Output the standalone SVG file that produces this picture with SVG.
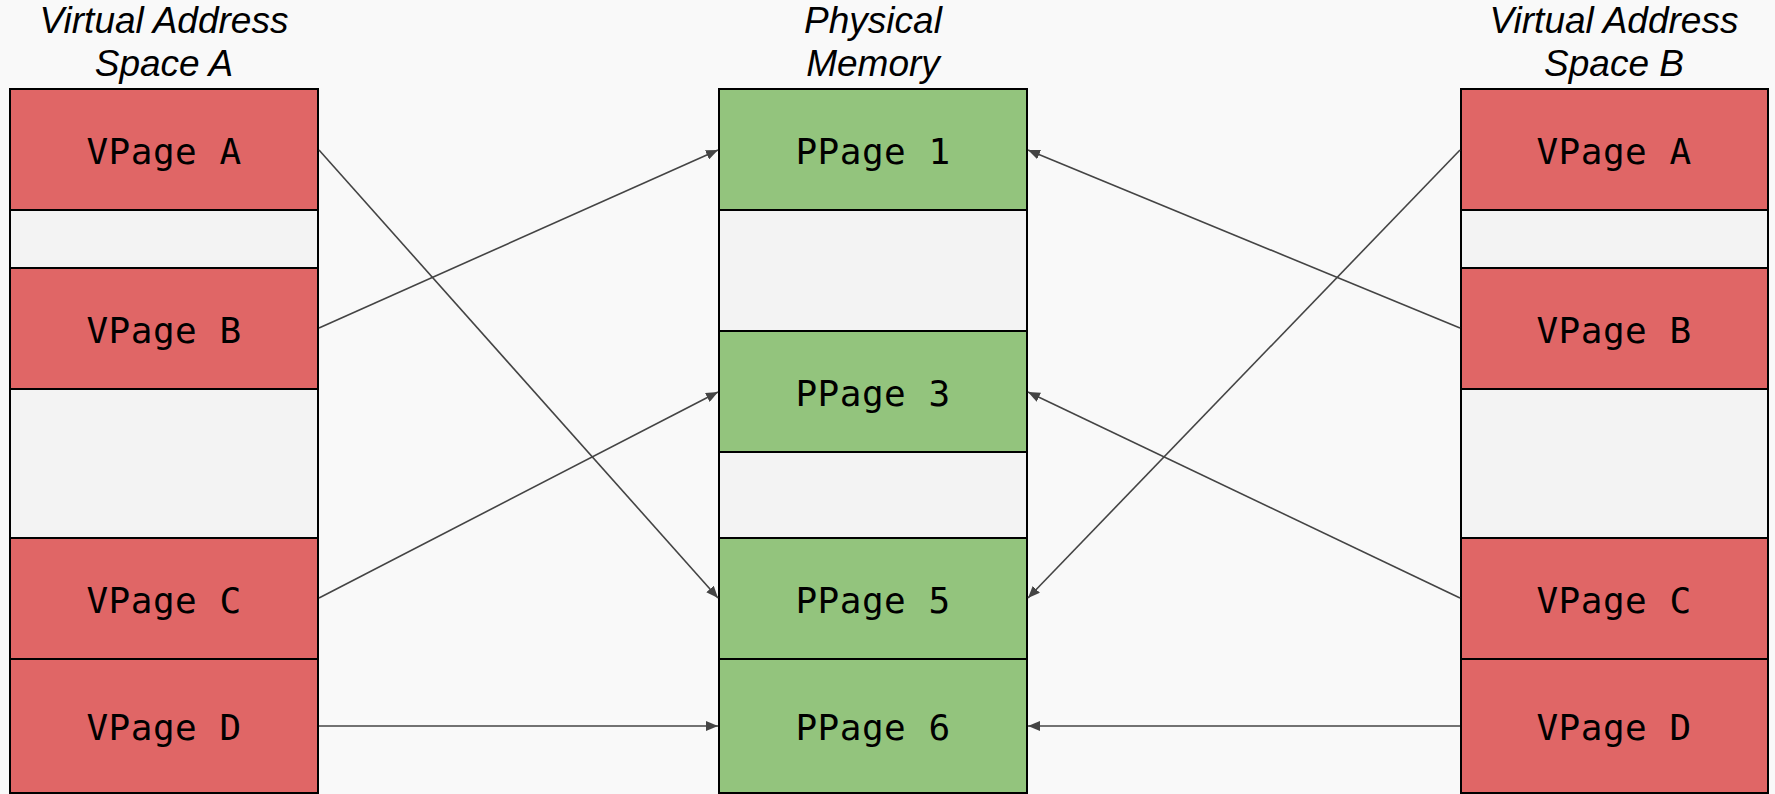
<svg xmlns="http://www.w3.org/2000/svg" width="1775" height="794" viewBox="0 0 1775 794">
  <defs>
    <marker id="arrow" viewBox="0 0 12 10" refX="12" refY="5" markerWidth="12" markerHeight="10" markerUnits="userSpaceOnUse" orient="auto">
      <path d="M0,0 L12,5 L0,10 Z" fill="#444444"/>
    </marker>
    <style>
      .title { font-family: "Liberation Sans", Arial, sans-serif; font-style: italic; font-size: 37px; fill: #000; text-anchor: middle; }
      .page { stroke: #000; stroke-width: 2; }
      .virt { fill: #e06666; }
      .phys { fill: #93c47d; }
      .free { fill: #f3f3f3; stroke: #000; stroke-width: 2; }
      .label { font-family: "DejaVu Sans Mono", "Liberation Mono", monospace; font-size: 36px; letter-spacing: 0.5px; fill: #000; text-anchor: middle; }
      .link { stroke: #444444; stroke-width: 1.6; fill: none; marker-end: url(#arrow); }
    </style>
  </defs>

  <rect width="1775" height="794" fill="#f9f9f9"/>

  <!-- column headings -->
  <g id="title-a">
    <text class="title" x="164" y="33">Virtual Address</text>
    <text class="title" x="164" y="76">Space A</text>
  </g>
  <g id="title-phys">
    <text class="title" x="873" y="33">Physical</text>
    <text class="title" x="873" y="76">Memory</text>
  </g>
  <g id="title-b">
    <text class="title" x="1614" y="33">Virtual Address</text>
    <text class="title" x="1614" y="76">Space B</text>
  </g>

  <!-- virtual address space A -->
  <g id="space-a">
    <g id="a-vpage-a">
      <rect class="page virt" x="10" y="89" width="308" height="121"/>
      <text class="label" x="164" y="164">VPage A</text>
    </g>
    <rect class="free" x="10" y="210" width="308" height="58"/>
    <g id="a-vpage-b">
      <rect class="page virt" x="10" y="268" width="308" height="121"/>
      <text class="label" x="164" y="343">VPage B</text>
    </g>
    <rect class="free" x="10" y="389" width="308" height="149"/>
    <g id="a-vpage-c">
      <rect class="page virt" x="10" y="538" width="308" height="121"/>
      <text class="label" x="164" y="613">VPage C</text>
    </g>
    <g id="a-vpage-d">
      <rect class="page virt" x="10" y="659" width="308" height="134"/>
      <text class="label" x="164" y="740">VPage D</text>
    </g>
  </g>

  <!-- physical memory -->
  <g id="physical">
    <g id="ppage-1">
      <rect class="page phys" x="719" y="89" width="308" height="121"/>
      <text class="label" x="873" y="164">PPage 1</text>
    </g>
    <rect class="free" x="719" y="210" width="308" height="121"/>
    <g id="ppage-3">
      <rect class="page phys" x="719" y="331" width="308" height="121"/>
      <text class="label" x="873" y="406">PPage 3</text>
    </g>
    <rect class="free" x="719" y="452" width="308" height="86"/>
    <g id="ppage-5">
      <rect class="page phys" x="719" y="538" width="308" height="121"/>
      <text class="label" x="873" y="613">PPage 5</text>
    </g>
    <g id="ppage-6">
      <rect class="page phys" x="719" y="659" width="308" height="134"/>
      <text class="label" x="873" y="740">PPage 6</text>
    </g>
  </g>

  <!-- virtual address space B -->
  <g id="space-b">
    <g id="b-vpage-a">
      <rect class="page virt" x="1461" y="89" width="307" height="121"/>
      <text class="label" x="1614" y="164">VPage A</text>
    </g>
    <rect class="free" x="1461" y="210" width="307" height="58"/>
    <g id="b-vpage-b">
      <rect class="page virt" x="1461" y="268" width="307" height="121"/>
      <text class="label" x="1614" y="343">VPage B</text>
    </g>
    <rect class="free" x="1461" y="389" width="307" height="149"/>
    <g id="b-vpage-c">
      <rect class="page virt" x="1461" y="538" width="307" height="121"/>
      <text class="label" x="1614" y="613">VPage C</text>
    </g>
    <g id="b-vpage-d">
      <rect class="page virt" x="1461" y="659" width="307" height="134"/>
      <text class="label" x="1614" y="740">VPage D</text>
    </g>
  </g>

  <!-- page mappings -->
  <g id="connectors">
    <line class="link" x1="319" y1="150" x2="718" y2="598"/>
    <line class="link" x1="319" y1="328" x2="718" y2="150"/>
    <line class="link" x1="319" y1="598" x2="718" y2="392"/>
    <line class="link" x1="319" y1="726" x2="718" y2="726"/>
    <line class="link" x1="1460" y1="150" x2="1028" y2="598"/>
    <line class="link" x1="1460" y1="328" x2="1028" y2="150"/>
    <line class="link" x1="1460" y1="598" x2="1028" y2="392"/>
    <line class="link" x1="1460" y1="726" x2="1028" y2="726"/>
  </g>
</svg>
